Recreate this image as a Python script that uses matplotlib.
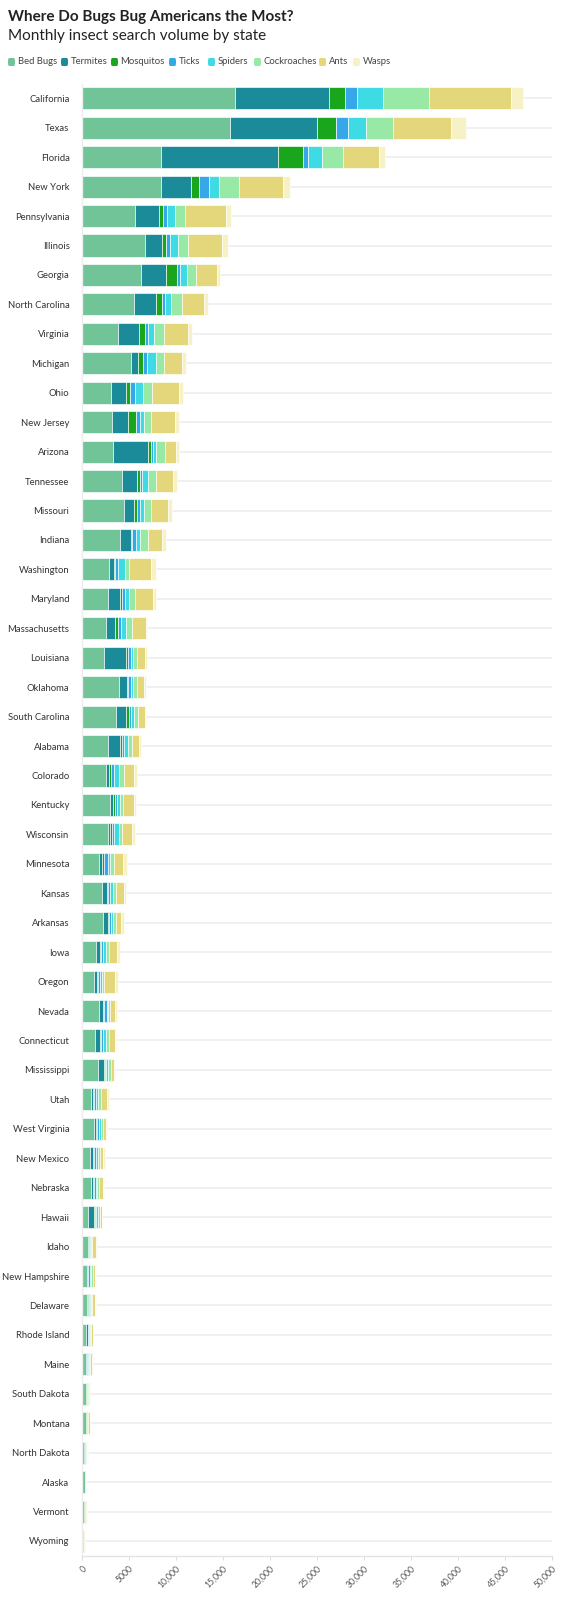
import matplotlib
matplotlib.use("Agg")
import matplotlib.pyplot as plt
from matplotlib.patches import FancyBboxPatch
import numpy as np

plt.rcParams['font.family'] = ['Lato', 'DejaVu Sans']

states = ["California", "Texas", "Florida", "New York", "Pennsylvania", "Illinois", "Georgia",
          "North Carolina", "Virginia", "Michigan", "Ohio", "New Jersey", "Arizona", "Tennessee",
          "Missouri", "Indiana", "Washington", "Maryland", "Massachusetts", "Louisiana", "Oklahoma",
          "South Carolina", "Alabama", "Colorado", "Kentucky", "Wisconsin", "Minnesota", "Kansas",
          "Arkansas", "Iowa", "Oregon", "Nevada", "Connecticut", "Mississippi", "Utah",
          "West Virginia", "New Mexico", "Nebraska", "Hawaii", "Idaho", "New Hampshire", "Delaware",
          "Rhode Island", "Maine", "South Dakota", "Montana", "North Dakota", "Alaska", "Vermont",
          "Wyoming"]

bed_bugs = [16240, 15740, 8390, 8390, 5620, 6740, 6300, 5500, 3840, 5180, 3080, 3190, 3260, 4270,
            4490, 4050, 2820, 2750, 2500, 2390, 3980, 3620, 2720, 2570, 2930, 2790, 1810, 2170,
            2280, 1520, 1300, 1850, 1380, 1670, 1010, 1270, 900, 980, 650, 620, 510, 540,
            430, 430, 400, 430, 250, 290, 220, 150]
termites = [10010, 9280, 12470, 3160, 2540, 1730, 2600, 2350, 2240, 800, 1630, 1670, 3800, 1560,
            1090, 1120, 540, 1270, 1010, 2240, 800, 1090, 1300, 290, 360, 180, 360, 470,
            470, 360, 250, 430, 510, 620, 140, 220, 290, 180, 650, 70, 110, 140,
            180, 70, 50, 40, 40, 20, 30, 20]
mosquitos = [1770, 2040, 2660, 920, 460, 420, 1210, 620, 620, 540, 400, 870, 250, 330,
             220, 180, 180, 220, 290, 270, 140, 330, 220, 220, 180, 180, 220, 110,
             110, 110, 110, 110, 110, 140, 110, 70, 70, 70, 70, 40, 40, 40,
             40, 30, 30, 30, 20, 10, 20, 10]
ticks = [1270, 1190, 540, 1000, 420, 460, 300, 360, 290, 430, 510, 430, 290, 250,
         330, 360, 290, 290, 330, 290, 250, 220, 250, 290, 290, 290, 330, 220,
         180, 220, 220, 220, 250, 140, 250, 250, 250, 220, 140, 110, 180, 110,
         70, 110, 70, 70, 70, 30, 70, 30]
spiders = [2730, 1920, 1500, 1080, 810, 890, 760, 690, 690, 940, 830, 430, 290, 580,
           470, 470, 760, 430, 580, 250, 250, 250, 360, 540, 290, 470, 290, 290,
           220, 290, 220, 140, 250, 180, 180, 180, 140, 140, 140, 90, 110, 110,
           110, 110, 70, 50, 50, 30, 40, 20]
cockroaches = [4890, 2930, 2230, 2190, 1120, 1000, 1000, 1120, 1090, 800, 1010, 800, 980, 870,
               760, 800, 400, 650, 650, 360, 430, 430, 430, 510, 360, 330, 360, 360,
               360, 330, 290, 220, 330, 290, 330, 250, 250, 220, 220, 170, 180, 140,
               140, 140, 100, 70, 70, 30, 50, 30]
ants = [8740, 6160, 3810, 4660, 4310, 3700, 2150, 2390, 2500, 1990, 2900, 2500, 1160, 1850,
        1770, 1560, 2320, 1920, 1410, 870, 760, 720, 760, 1090, 1160, 1120, 980, 800,
        510, 870, 1160, 540, 650, 330, 690, 330, 360, 430, 220, 360, 290, 290,
        150, 220, 110, 140, 70, 40, 110, 40]
wasps = [1230, 1620, 650, 770, 580, 580, 410, 400, 400, 430, 430, 470, 330, 430,
         400, 360, 580, 290, 180, 290, 250, 180, 220, 360, 220, 330, 430, 220,
         290, 290, 330, 220, 180, 180, 180, 110, 140, 140, 70, 110, 110, 110,
         70, 70, 50, 50, 70, 20, 40, 20]

series_names = ["Bed Bugs", "Termites", "Mosquitos", "Ticks", "Spiders", "Cockroaches", "Ants", "Wasps"]
series_values = [bed_bugs, termites, mosquitos, ticks, spiders, cockroaches, ants, wasps]
colors = ["#71c497", "#1b8a99", "#1aa61c", "#36a8ea", "#3edbe5", "#99e9a6", "#e4d67b", "#f7f2c6"]

x_ticks = [0, 5000, 10000, 15000, 20000, 25000, 30000, 35000, 40000, 45000, 50000]
x_tick_labels = ["0", "5000", "10,000", "15,000", "20,000", "25,000", "30,000", "35,000",
                 "40,000", "45,000", "50,000"]

fig = plt.figure(figsize=(5.68, 16.0), dpi=100)
fig.patch.set_facecolor("white")

W, H = 568.0, 1600.0
ax_left_px, ax_right_px = 82.0, 552.0
ax_top_px, ax_bot_px = 83.6, 1556.0
ax = fig.add_axes([ax_left_px / W, 1 - ax_bot_px / H,
                   (ax_right_px - ax_left_px) / W, (ax_bot_px - ax_top_px) / H])

y = np.arange(len(states))
ax.hlines(y, 0, 50000, color="#efefef", linewidth=1.3, zorder=0)

left = np.zeros(len(states))
for name, vals, col in zip(series_names, series_values, colors):
    v = np.array(vals, dtype=float)
    ax.barh(y, v, left=left, height=0.75, color=col, edgecolor="white",
            linewidth=0.45, zorder=2, label=name)
    left += v

ax.set_xlim(0, 50000)
ax.set_ylim(len(states) - 0.49, -0.5)
ax.set_yticks(y)
ax.set_yticklabels(states, fontsize=6.8, color="#333333")
ax.tick_params(axis="y", length=0, pad=9)
ax.set_xticks(x_ticks)
ax.set_xticklabels(x_tick_labels, fontsize=6.2, color="#555555", rotation=45,
                   ha="right", rotation_mode="anchor")
ax.tick_params(axis="x", length=3, color="#dddddd", pad=3)
for s in ["top", "right"]:
    ax.spines[s].set_visible(False)
ax.spines["bottom"].set_color("#e3e3e3")
ax.spines["left"].set_color("#eeeeee")
ax.spines["bottom"].set_linewidth(1.0)
ax.spines["left"].set_linewidth(1.0)

# Title & subtitle
fig.text(8 / W, 1 - 17 / H, "Where Do Bugs Bug Americans the Most?", fontsize=11,
         fontweight="bold", color="#222222", va="center", ha="left")
fig.text(8 / W, 1 - 36 / H, "Monthly insect search volume by state", fontsize=11,
         color="#222222", va="center", ha="left")

# Legend (manual)
leg_x = [8, 61, 111, 169, 208, 254, 319, 353]
leg_y = 62
for lx, name, col in zip(leg_x, series_names, colors):
    p = FancyBboxPatch(((lx) / W, 1 - (leg_y + 4) / H), 7 / W, 8 / H,
                       boxstyle="round,pad=0,rounding_size=0.002",
                       transform=fig.transFigure, facecolor=col, edgecolor="none")
    fig.patches.append(p)
    fig.text((lx + 9.5) / W, 1 - leg_y / H, name, fontsize=6.8, color="#444444",
             va="center", ha="left")

fig.savefig("out.png", dpi=100, facecolor="white")
